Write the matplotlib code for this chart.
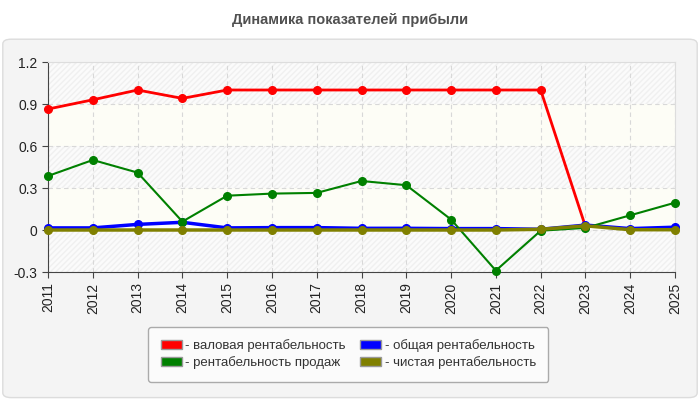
import matplotlib.pyplot as plt
from matplotlib.patches import FancyBboxPatch, Patch

plt.rcParams['font.family'] = ['Liberation Sans', 'DejaVu Sans']

nan = float('nan')
years = list(range(2011, 2026))
gross = [0.864, 0.93, 1.0, 0.94, 1.0, 1.0, 1.0, 1.0, 1.0, 1.0, 1.0, 1.0, 0.025, nan, nan]
sales = [0.386, 0.50, 0.41, 0.06, 0.245, 0.26, 0.265, 0.35, 0.32, 0.075, -0.29, -0.005, 0.015, 0.105, 0.195]
total = [0.015, 0.015, 0.04, 0.055, 0.015, 0.017, 0.017, 0.012, 0.012, 0.01, 0.01, 0.005, 0.035, 0.01, 0.02]
net = [0.0, 0.0, 0.0, 0.0, 0.0, 0.0, 0.0, 0.0, 0.0, 0.0, 0.0, 0.005, 0.03, 0.002, 0.002]
yticks = [-0.3, 0, 0.3, 0.6, 0.9, 1.2]
ytick_labels = ['-0.3', '0', '0.3', '0.6', '0.9', '1.2']

series = [
    (gross, 'red', '- валовая рентабельность', 2.0),
    (total, 'blue', '- общая рентабельность', 2.5),
    (sales, 'green', '- рентабельность продаж', 1.5),
    (net, '#808000', '- чистая рентабельность', 2.5),
]

fig = plt.figure(figsize=(7, 4), dpi=100)
fig.patch.set_facecolor('white')

# outer panel
panel = FancyBboxPatch((0.004, 0.006), 0.992, 0.896, boxstyle='round,pad=0,rounding_size=0.012',
                       transform=fig.transFigure, facecolor='#f4f4f4', edgecolor='#dcdcdc',
                       linewidth=1, zorder=-10)
fig.patches.append(panel)

fig.text(0.5, 0.95, 'Динамика показателей прибыли', ha='center', va='center',
         fontsize=10.5, fontweight='bold', color='#505050')

ax = fig.add_axes([0.0686, 0.32, 0.8957, 0.525])
ax.set_facecolor('#fdfdf6')

# background bands
for lo, hi in [(0.9, 1.2), (0.3, 0.6), (-0.3, 0.0)]:
    ax.axhspan(lo, hi, facecolor='#fbfbfb', edgecolor='#f0f0f0', hatch='//////',
               linewidth=0, zorder=0)

ax.grid(True, color='#d8d8d8', linestyle=(0, (4, 3)), linewidth=0.8, zorder=1)

for vals, color, label, lw in series:
    ax.plot(years, vals, color=color, linewidth=lw, marker='o', markersize=5.5,
            zorder=3, clip_on=False)

ax.set_xlim(2011, 2025)
ax.set_ylim(-0.3, 1.2)
ax.set_xticks(years)
ax.set_xticklabels([str(y) for y in years], rotation=90, fontsize=10, color='#222222')
ax.set_yticks(yticks)
ax.set_yticklabels(ytick_labels, fontsize=10, color='#222222')
ax.tick_params(length=4, color='#444444')

for s in ['left', 'bottom']:
    ax.spines[s].set_color('#444444')
for s in ['top', 'right']:
    ax.spines[s].set_color('#dddddd')

handles = [Patch(facecolor=c, edgecolor='#999999', label=l) for _, c, l, _ in series]
leg = fig.legend(handles=[handles[0], handles[2], handles[1], handles[3]],
                 loc='center', bbox_to_anchor=(0.4975, 0.114), ncol=2,
                 fontsize=9.5, frameon=True, fancybox=True, handlelength=1.6,
                 handleheight=0.7, handletextpad=0.25, columnspacing=1.1,
                 borderpad=0.95, labelspacing=0.3)
leg.get_frame().set_facecolor('#fbfbfb')
leg.get_frame().set_edgecolor('#aaaaaa')
leg.get_frame().set_alpha(1)
for t in leg.get_texts():
    t.set_color('#333333')

fig.savefig('out.png', dpi=100)
